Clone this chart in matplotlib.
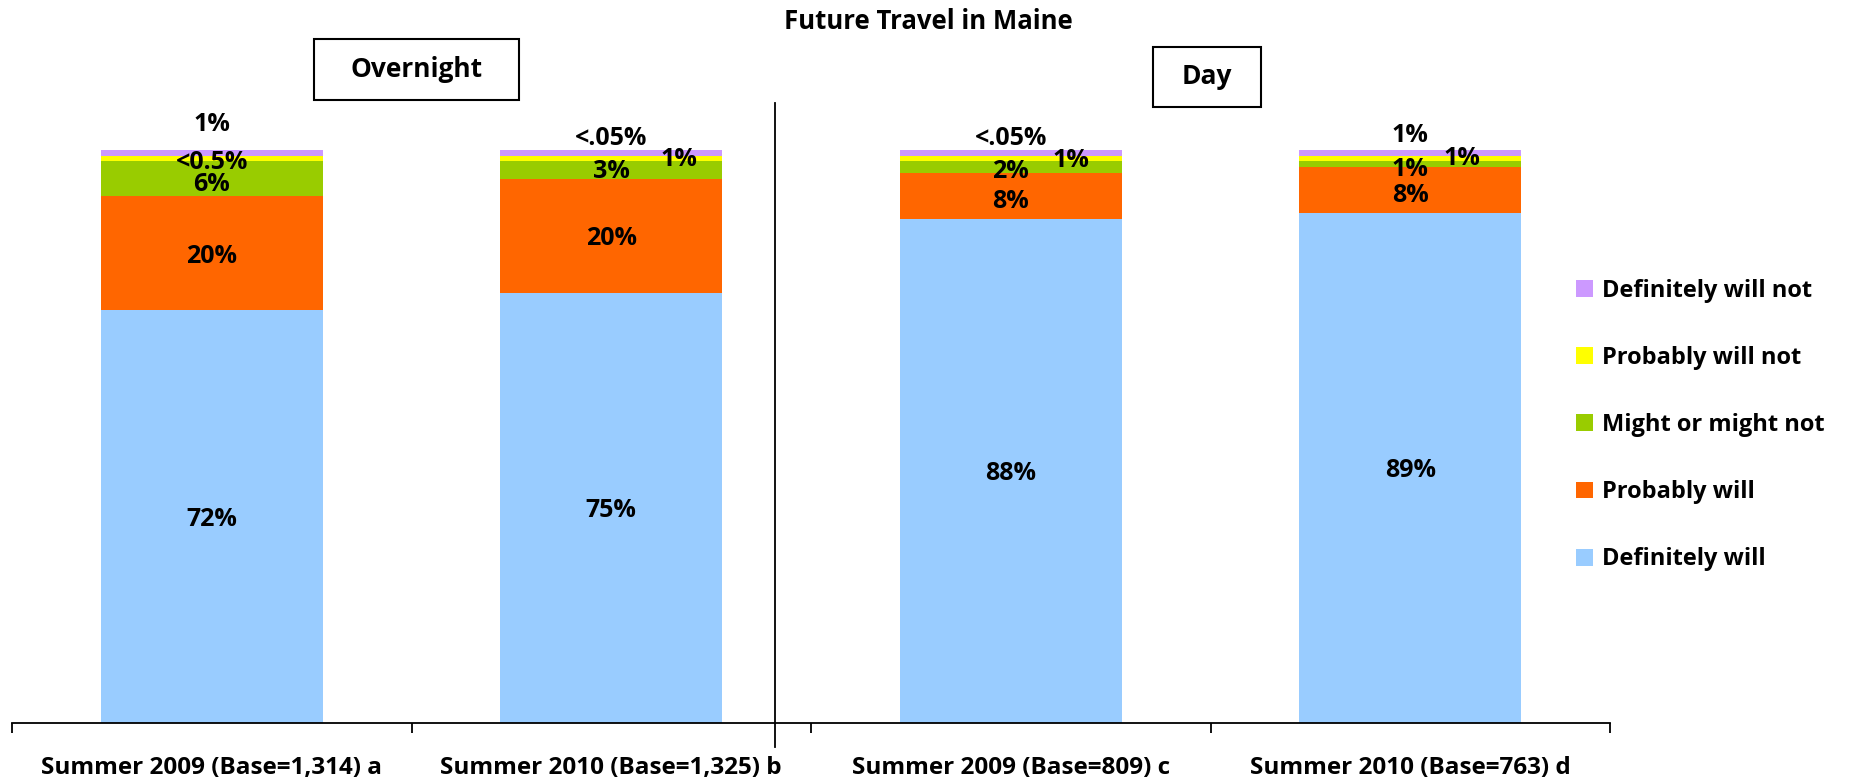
import matplotlib.pyplot as plt
from matplotlib.patches import Rectangle

plt.rcParams['font.family'] = ['Open Sans', 'DejaVu Sans']
plt.rcParams['font.weight'] = 'bold'

# data (percent)
categories = ['Summer 2009 (Base=1,314) a', 'Summer 2010 (Base=1,325) b',
              'Summer 2009 (Base=809) c', 'Summer 2010 (Base=763) d']
definitely_will = [72, 75, 88, 89]
probably_will = [20, 20, 8, 8]
might_or_might_not = [6, 3, 2, 1]
probably_will_not = [1, 1, 1, 1]
definitely_will_not = [1, 1, 1, 1]

lbl_definitely_will = ['72%', '75%', '88%', '89%']
lbl_probably_will = ['20%', '20%', '8%', '8%']
lbl_might = ['6%', '3%', '2%', '1%']
lbl_probably_not = ['<0.5%', '<.05%', '<.05%', '1%']
lbl_definitely_not = ['1%', '1%', '1%', '1%']

series = [
    ('Definitely will', definitely_will, '#99CCFF', lbl_definitely_will),
    ('Probably will', probably_will, '#FF6600', lbl_probably_will),
    ('Might or might not', might_or_might_not, '#99CC00', lbl_might),
    ('Probably will not', probably_will_not, '#FFFF00', lbl_probably_not),
    ('Definitely will not', definitely_will_not, '#CC99FF', lbl_definitely_not),
]

# hand placed labels for the thin segments: (series index, bar) -> (dx, dy from segment centre)
label_shift = {
    (2, 0): (0, -0.6), (3, 0): (0, -0.1), (4, 0): (0, 5.5),
    (2, 1): (0, 0.2), (3, 1): (0, 4.0), (4, 1): (0.17, -0.7),
    (2, 2): (0, -0.3), (3, 2): (0, 4.0), (4, 2): (0.15, -0.9),
    (1, 2): (0, -0.5), (2, 3): (0, -0.4), (3, 3): (0, 4.6), (4, 3): (0.13, -0.5),
    (1, 3): (0, -0.4),
}

fig = plt.figure(figsize=(18.53, 7.81), dpi=100)
ax = fig.add_axes([12 / 1853, 58 / 781, 1598 / 1853, 573 / 781])

x = list(range(len(categories)))
bottom = [0] * len(categories)
for si, (name, vals, col, lbls) in enumerate(series):
    ax.bar(x, vals, width=0.555, bottom=bottom, color=col, label=name, linewidth=0)
    for i in x:
        dx, dy = label_shift.get((si, i), (0, 0))
        yc = bottom[i] + vals[i] / 2 + dy - 0.5
        ax.text(i + dx, yc, lbls[i], ha='center', va='center', fontsize=18,
                fontweight='bold', clip_on=False)
    bottom = [b + v for b, v in zip(bottom, vals)]

ax.set_xlim(-0.5, 3.5)
ax.set_ylim(0, 100)
ax.set_yticks([])
for s in ['left', 'right', 'top']:
    ax.spines[s].set_visible(False)
ax.spines['bottom'].set_linewidth(1.3)
ax.set_xticks(x)
ax.set_xticklabels(categories, fontsize=17.5, fontweight='bold')
ax.set_xticks([-0.5, 0.5, 1.5, 2.5, 3.5], minor=True)
ax.tick_params(axis='x', which='major', length=0, pad=24)
ax.tick_params(axis='x', which='minor', length=7, width=1.3, direction='out')

# divider between overnight and day
ax.plot([1.41, 1.41], [-4.2, 108.2], color='black', lw=1.3, clip_on=False)

# section boxes
for label, (bx, by, bw, bh) in [('Overnight', (314, 39, 205, 61)), ('Day', (1153, 47, 108, 60))]:
    fig.patches.append(Rectangle((bx / 1853, 1 - (by + bh) / 781), bw / 1853, bh / 781,
                                 transform=fig.transFigure, facecolor='white',
                                 edgecolor='black', linewidth=1.5))
    fig.text((bx + bw / 2) / 1853, 1 - (by + bh / 2) / 781, label, ha='center', va='center',
             fontsize=19, fontweight='bold')

fig.suptitle('Future Travel in Maine', x=928 / 1853, y=0.972, va='center',
             fontsize=18.5, fontweight='bold')

h, l = ax.get_legend_handles_labels()
ax.legend(h[::-1], l[::-1], loc='center left', bbox_to_anchor=(1576 / 1853, 1 - 425 / 781),
          bbox_transform=fig.transFigure, frameon=False, fontsize=17,
          handlelength=0.72, handleheight=0.72, handletextpad=0.4, labelspacing=1.83,
          borderpad=0, borderaxespad=0)

fig.savefig('out.png', dpi=100)
plt.close()
